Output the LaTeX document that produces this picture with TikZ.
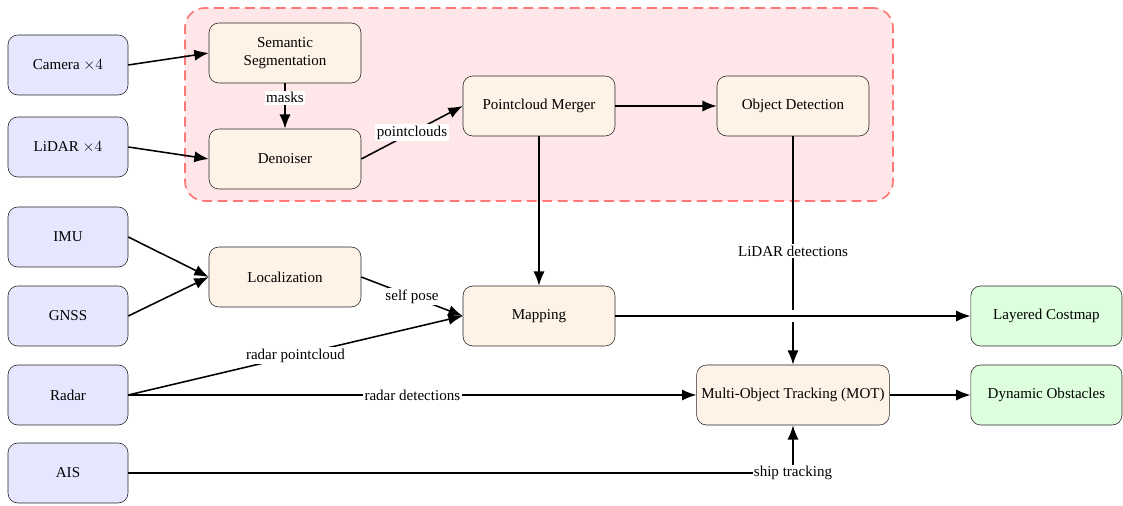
\documentclass[tikz,border=0pt]{standalone}
\usepackage{fontspec}
\setmainfont{Liberation Serif}
\usetikzlibrary{arrows.meta, positioning, calc}
\definecolor{InBlue}{RGB}{230, 230, 255}
\definecolor{ProcOrange}{RGB}{255, 242, 230}
\definecolor{OutGreen}{RGB}{222, 255, 222}
\definecolor{PercFill}{RGB}{255, 230, 232}
\definecolor{PercEdge}{RGB}{255, 120, 120}

\begin{document}
\begin{tikzpicture}[
  every node/.style={font=\fontsize{10.7pt}{12.6pt}\selectfont},
  sensor/.style={draw=black!85, rounded corners=7pt, fill=InBlue,
                 align=center, minimum height=1.5cm, minimum width=3.0cm},
  proc/.style={draw=black!85, rounded corners=7pt, fill=ProcOrange,
               align=center, minimum height=1.5cm, minimum width=3.8cm},
  outbox/.style={draw=black!85, rounded corners=7pt, fill=OutGreen,
                 align=center, minimum height=1.5cm, minimum width=3.78cm},
  lbl/.style={fill=white, inner sep=1pt},
  arr/.style={-{Latex[length=3.6mm, width=2.8mm]}, line width=1.1pt}
]
  \useasboundingbox (0,0) rectangle (28.075,12.65);

  %% Perception block (drawn first, behind the nodes)
  \node[draw=PercEdge, fill=PercFill, line width=1.2pt,
        dash pattern=on 7pt off 4pt, rounded corners=14pt,
        minimum width=17.7cm, minimum height=4.825cm] (perception) at (13.475,10.0375) {};

  %% Sensors
  \node[sensor] (camera) at (1.7,11.025) {Camera $\times 4$};
  \node[sensor] (lidar)  at (1.7, 8.975) {LiDAR $\times 4$};
  \node[sensor] (imu)    at (1.7, 6.725) {IMU};
  \node[sensor] (gnss)   at (1.7, 4.75)  {GNSS};
  \node[sensor] (radar)  at (1.7, 2.775) {Radar};
  \node[sensor] (ais)    at (1.7, 0.825) {AIS};

  %% Processing
  \node[proc] (semseg)   at ( 7.125,11.325) {Semantic\\Segmentation};
  \node[proc] (denoiser) at ( 7.125, 8.675) {Denoiser};
  \node[proc] (merger)   at (13.475,10.0)   {Pointcloud Merger};
  \node[proc] (objdet)   at (19.825,10.0)   {Object Detection};
  \node[proc] (loc)      at ( 7.125, 5.725) {Localization};
  \node[proc] (mapping)  at (13.475, 4.75)  {Mapping};
  \node[proc] (mot)      at (19.825, 2.775) {Multi-Object Tracking (MOT)};

  %% Outputs
  \node[outbox] (costmap) at (26.16,4.75)  {Layered Costmap};
  \node[outbox] (dynobs)  at (26.16,2.775) {Dynamic Obstacles};

  %% Arrows
  \draw[arr] (camera.east)   -- (semseg.west);
  \draw[arr] (lidar.east)    -- (denoiser.west);
  \draw[arr] (semseg)        -- node[lbl, pos=0.32] {masks} (denoiser);
  \draw[arr] (denoiser.east) -- node[lbl] {pointclouds} (merger.west);
  \draw[arr] (merger)        -- (objdet);
  \draw[arr] (merger)        -- (mapping);
  \draw[arr] (imu.east)      -- (loc.west);
  \draw[arr] (gnss.east)     -- (loc.west);
  \draw[arr] (loc.east)      -- node[lbl] {self pose} (mapping.west);
  \draw[arr] (radar.east)    -- node[lbl] {radar pointcloud} (mapping.west);
  \draw[arr] (radar.east)    -- node[lbl] {radar detections} (mot.west);
  \draw[arr] (ais.east)      -| node[lbl, pos=0.5] {ship tracking} (mot.south);
  \draw[arr] (mapping)       -- (costmap);
  \draw[arr] (mot)           -- (dynobs);

  %% LiDAR detections jump over the costmap line
  \coordinate (cross) at (objdet.south |- mapping.east);
  \draw[line width=1.1pt] (objdet.south) -- node[lbl, pos=0.66] {LiDAR detections}
    ($(cross)+(0,0.15)$);
  \draw[arr] ($(cross)-(0,0.15)$) -- (mot.north);
\end{tikzpicture}
\end{document}
